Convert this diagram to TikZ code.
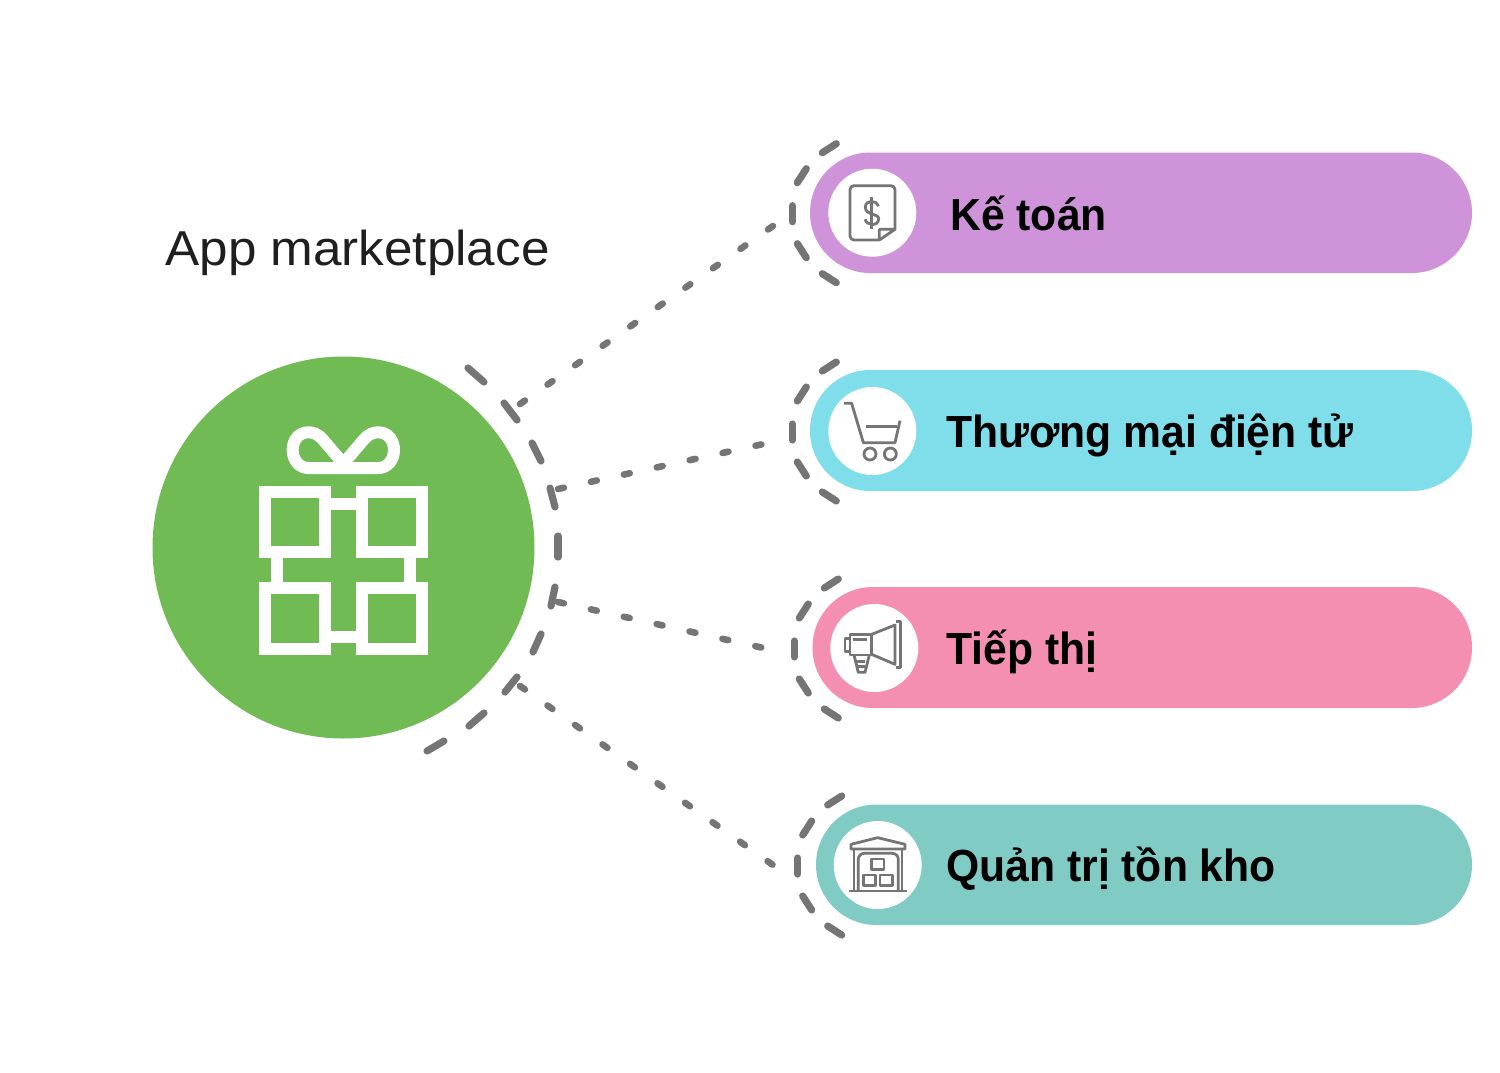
\documentclass[tikz,border=0pt]{standalone}
\usepackage{fontspec}
\setmainfont{Liberation Sans}
\newfontfamily\titlefont[FakeStretch=1.045]{Liberation Sans}
\newfontfamily\labelfont[FakeStretch=0.948]{Liberation Sans}
\definecolor{hubgreen}{HTML}{70BB54}
\definecolor{dashgray}{HTML}{757575}
\definecolor{pillA}{HTML}{CE93D8}
\definecolor{pillB}{HTML}{80DEEA}
\definecolor{pillC}{HTML}{F48FB1}
\definecolor{pillD}{HTML}{80CBC4}
\tikzset{
  hub/.style={circle,fill=hubgreen,minimum size=191pt,inner sep=0pt},
  pill/.style={rounded corners=30.1pt,draw=none},
  disc/.style={circle,fill=white,minimum size=44pt,inner sep=0pt},
  ring/.style={draw=dashgray,line width=3.6pt,line cap=round},
  link/.style={draw=dashgray,line width=3.3pt,line cap=round,dash pattern=on 3pt off 13.85pt},
  iconline/.style={draw=dashgray,line width=1.4pt,line join=round},
  giftline/.style={draw=white,line width=6pt},
  title/.style={anchor=base west,inner sep=0pt,font=\titlefont\fontsize{24.5}{28}\selectfont,text=black!88},
  label/.style={anchor=base west,inner sep=0pt,font=\labelfont\fontsize{22.5}{26}\selectfont\bfseries,text=black},
}
\newcommand{\ringdashes}[2]{%
  \begin{scope}[shift={(#1,#2)}]
    \draw[ring] (-50,-60)--(-36,-69);
    \draw[ring] (-75,-30)--(-66,-44);
    \draw[ring] (-80,-7)--(-80,9);
    \draw[ring] (-75,31)--(-66,45);
    \draw[ring] (-50,61)--(-36,70);
  \end{scope}}
\begin{document}
\begin{tikzpicture}[x=0.5pt,y=-0.5pt]
\useasboundingbox (0,0) rectangle (1500,1072);
% hub
\node[hub] (hub) at (343.5,547.5) {};
\node[title] (apptitle) at (165,265) {App marketplace};
% gift icon
\begin{scope}[shift={(240,410)},scale=1/3]
  \draw[giftline] (75,246) rectangle (256,426);
  \draw[giftline] (365,246) rectangle (545,426);
  \draw[giftline] (75,535) rectangle (256,716);
  \draw[giftline] (365,535) rectangle (545,716);
  \draw[giftline] (256,282)--(365,282);
  \draw[giftline] (256,680)--(365,680);
  \draw[giftline] (111,426)--(111,535);
  \draw[giftline] (509,426)--(509,535);
  \draw[giftline,line join=round] (312,163) -- (248,88) .. controls (232,70) and (218,67) .. (205,67)
     .. controls (175,67) and (158,92) .. (158,120) .. controls (158,150) and (178,174) .. (205,174)
     -- (415,174) .. controls (442,174) and (462,150) .. (462,120) .. controls (462,92) and (445,67) .. (415,67)
     .. controls (402,67) and (388,70) .. (372,88) -- (308,163);
\end{scope}
% hub ring
\draw[ring] (468,368)--(484,382);
\draw[ring] (504,403)--(517,420);
\draw[ring] (532,443)--(541,461);
\draw[ring] (550,488)--(555,507);
\draw[ring] (558,536)--(558,557);
\draw[ring] (555,587)--(551,606);
\draw[ring] (541,634)--(533,652);
\draw[ring] (517,677)--(505,692);
\draw[ring] (484,713)--(469,726);
\draw[ring] (444,741)--(427,751);
% pills
\fill[pillA,pill] (810,152.5) rectangle (1472,273);
\fill[pillB,pill] (810,370) rectangle (1472,491);
\fill[pillC,pill] (812.5,587) rectangle (1472,708);
\fill[pillD,pill] (816,804.5) rectangle (1472,925);
\node[disc] (d1) at (872.3,212.7) {};
\node[disc] (d2) at (872.3,431) {};
\node[disc] (d3) at (874.3,648) {};
\node[disc] (d4) at (877.7,865) {};
\ringdashes{872.3}{212.7}
\ringdashes{872.3}{431}
\ringdashes{874.3}{648}
\ringdashes{877.7}{865}
% connectors
\coordinate (h1) at (520,404); \coordinate (e1) at (773,226);
\coordinate (h2) at (558,489); \coordinate (e2) at (768,443);
\coordinate (h3) at (558,602); \coordinate (e3) at (768,649);
\coordinate (h4) at (520,686); \coordinate (e4) at (773,865);
\draw[link] (h1)--(e1);
\draw[link] (h2)--(e2);
\draw[link] (h3)--(e3);
\draw[link] (h4)--(e4);
% labels
\node[label] (t1) at (950,230) {Kế toán};
\node[label] (t2) at (946,447) {Thương mại điện tử};
\node[label] (t3) at (946,664) {Tiếp thị};
\node[label] (t4) at (946,881) {Quản trị tồn kho};
% invoice icon
\begin{scope}[shift={(780,130)},scale=1/3]
  \draw[iconline,rounded corners=2pt] (345,298)--(345,167)--(210,167)--(210,330)--(298,330);
  \draw[iconline] (298,330)--(345,298)--(298,298)--cycle;
  \draw[iconline] (275,200)--(275,296);
  \draw[iconline] (296,228) .. controls (290,210) and (256,208) .. (256,232)
     .. controls (256,256) and (296,250) .. (296,266) .. controls (296,290) and (260,288) .. (255,268);
\end{scope}
% cart icon
\begin{scope}[shift={(780,350)},scale=1/3]
  \draw[iconline] (192,160)--(215,160)--(250,278)--(345,278)--(360,212);
  \draw[iconline] (257,230)--(352,230);
  \draw[iconline] (270,312) circle[radius=18];
  \draw[iconline] (331,312) circle[radius=18];
\end{scope}
% megaphone icon
\begin{scope}[shift={(780,565)},scale=1/3]
  \draw[iconline] (210,208) rectangle (275,270);
  \draw[iconline] (210,220)--(195,220)--(195,260)--(210,260);
  \draw[iconline] (275,208)--(345,180)--(345,298)--(275,268);
  \draw[iconline] (348,170)--(362,170)--(362,307)--(348,307);
  \draw[iconline] (218,224)--(262,224);
  \draw[iconline] (222,270)--(235,322)--(255,322)--(268,270);
  \draw[iconline] (228,290)--(255,290);
  \draw[iconline] (232,305)--(255,305);
\end{scope}
% warehouse icon
\begin{scope}[shift={(780,785)},scale=1/3]
  \draw[iconline] (213,192)--(213,178)--(293,158)--(375,178)--(375,192)--cycle;
  \draw[iconline] (222,192)--(222,318);
  \draw[iconline] (366,192)--(366,318);
  \draw[iconline,rounded corners=3pt] (235,318)--(235,205)--(355,205)--(355,318);
  \draw[iconline] (208,318)--(380,318);
  \draw[iconline] (275,222) rectangle (312,254);
  \draw[iconline] (250,270) rectangle (287,302);
  \draw[iconline] (300,270) rectangle (337,302);
\end{scope}
\end{tikzpicture}
\end{document}
